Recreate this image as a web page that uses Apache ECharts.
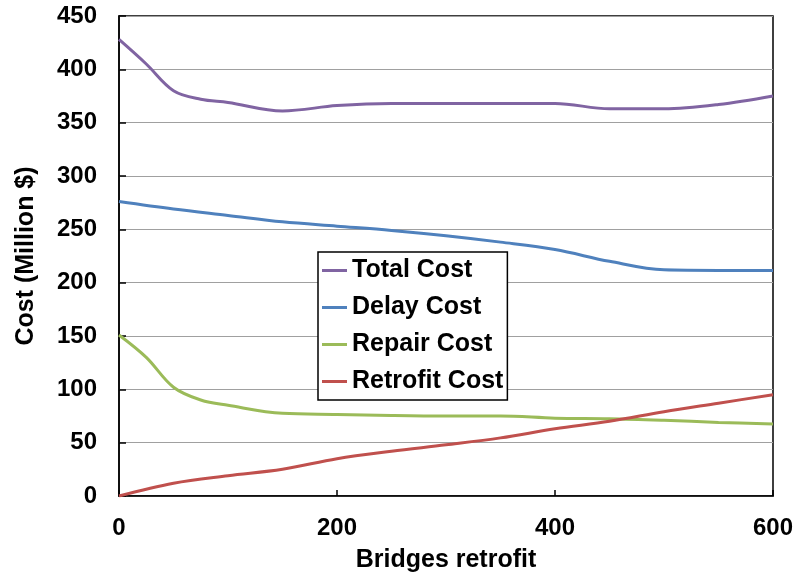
<!DOCTYPE html>
<html>
<head>
<meta charset="utf-8">
<script src="https://cdn.jsdelivr.net/npm/echarts@6/dist/echarts.min.js"></script>
<style>html,body{margin:0;padding:0;background:#fff;}#c{width:798px;height:579px;}</style>
</head>
<body>
<div id="c"></div>
<script>
const seriesNames = ['Total Cost', 'Delay Cost', 'Repair Cost', 'Retrofit Cost'];
const xAxisTicks = [0, 200, 400, 600];

const totalX = [0, 25, 50, 75, 100, 150, 200, 250, 300, 350, 400, 450, 500, 550, 600];
const totalY = [428, 405, 380, 372, 369, 361, 366, 368, 368, 368, 368, 363, 363, 367, 375];

const delayX = [0, 50, 100, 150, 200, 250, 300, 350, 400, 450, 500, 550, 600];
const delayY = [276, 269, 263, 257, 253, 249, 244, 238, 231, 220, 212, 211.5, 211.5];

const repairX = [0, 25, 50, 75, 100, 150, 200, 250, 300, 350, 400, 450, 500, 550, 600];
const repairY = [151, 130, 102, 90, 85, 77.5, 76.5, 75.5, 75, 75, 73, 72.5, 71, 69, 67.5];

const retrofitX = [0, 50, 100, 150, 200, 250, 300, 350, 400, 450, 500, 550, 600];
const retrofitY = [0, 12, 19, 25, 35, 42, 48, 54.5, 63, 70, 79, 87, 95];

const colors = ['#8064A2', '#4F81BD', '#9BBB59', '#C0504D'];
const FONT = "'Liberation Sans', Arial, sans-serif";

function pairs(xs, ys) { return xs.map((x, i) => [x, ys[i]]); }
const dataSets = [pairs(totalX, totalY), pairs(delayX, delayY), pairs(repairX, repairY), pairs(retrofitX, retrofitY)];

const chart = echarts.init(document.getElementById('c'));
chart.setOption({
  animation: false,
  color: colors,
  textStyle: { fontFamily: FONT },
  grid: { left: 119, right: 25, top: 16, bottom: 83, show: true, borderColor: '#000', borderWidth: 1.5, backgroundColor: 'transparent' },
  legend: {
    orient: 'vertical', left: 318, top: 252,
    padding: [6, 4, 6, 4], itemGap: 12, itemWidth: 25, itemHeight: 3, icon: 'rect',
    backgroundColor: '#fff', borderColor: '#000', borderWidth: 1.5,
    textStyle: { fontSize: 25, fontWeight: 'bold', color: '#000', fontFamily: FONT },
    data: seriesNames
  },
  xAxis: {
    type: 'value', min: 0, max: 600, interval: 200,
    name: 'Bridges retrofit', nameLocation: 'middle', nameGap: 52,
    nameTextStyle: { fontSize: 25, fontWeight: 'bold', color: '#000', fontFamily: FONT },
    axisLine: { show: true, lineStyle: { color: '#000', width: 1.5 } },
    axisTick: { show: true, inside: true, length: 6, lineStyle: { color: '#000', width: 1.5 } },
    axisLabel: { fontSize: 24, fontWeight: 'bold', color: '#000', margin: 20, fontFamily: FONT },
    splitLine: { show: false }
  },
  yAxis: {
    type: 'value', min: 0, max: 450, interval: 50,
    name: 'Cost (Million $)', nameLocation: 'middle', nameGap: 80, nameRotate: 90,
    nameTextStyle: { fontSize: 25, fontWeight: 'bold', color: '#000', fontFamily: FONT },
    axisLine: { show: true, lineStyle: { color: '#000', width: 1.5 } },
    axisTick: { show: true, inside: true, length: 7, lineStyle: { color: '#000', width: 1.5 } },
    axisLabel: { fontSize: 24, fontWeight: 'bold', color: '#000', margin: 22, fontFamily: FONT },
    splitLine: { show: true, lineStyle: { color: '#a0a0a0', width: 1 } }
  },
  series: seriesNames.map((n, i) => ({
    name: n, type: 'line', smooth: 0.35, symbol: 'none',
    lineStyle: { width: 3, color: colors[i] },
    data: dataSets[i]
  }))
});
</script>
</body>
</html>
